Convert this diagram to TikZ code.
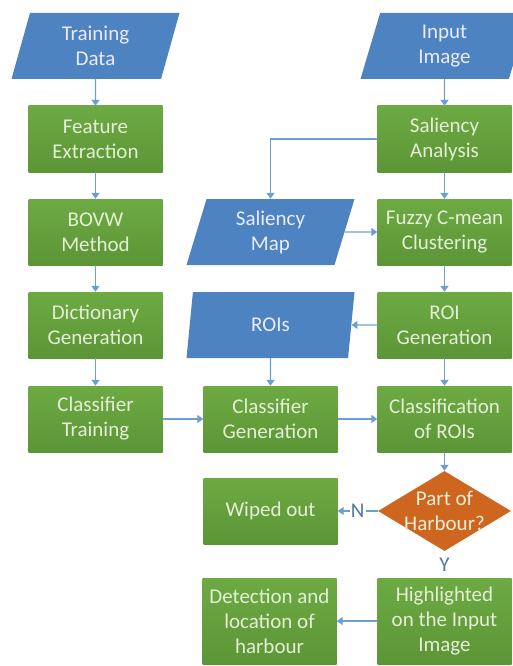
\documentclass[tikz,border=0pt]{standalone}
\usepackage{fontspec}
\setmainfont{Carlito}
\usetikzlibrary{arrows.meta,shapes.geometric}
\definecolor{boxgreen}{HTML}{6DAA43}
\definecolor{boxgreendark}{HTML}{5C9536}
\definecolor{ioblue}{HTML}{4E83C1}
\definecolor{deforange}{HTML}{CF661F}
\definecolor{arrowblue}{HTML}{6B9FD3}
\definecolor{lighttext}{HTML}{E4EFD6}
\tikzset{%
  >={Triangle[width=8pt,length=6pt]},
  % Specifications for style of nodes:
            base/.style = {rectangle, draw=none, inner sep=0pt,
                           minimum width=134pt, minimum height=66pt,
                           text centered, align=center, text=lighttext,
                           font=\fontsize{21}{25}\selectfont},
      greenbox/.style = {base, top color=boxgreen, bottom color=boxgreendark}, %green
       tallbox/.style = {greenbox, minimum height=86pt},
         iobox/.style = {base, trapezium, trapezium left angle=65,
                           trapezium right angle=115, trapezium stretches body,
                           minimum width=168pt, fill=ioblue, text=white!92!blue}, %blue
      decision/.style = {base, diamond, minimum width=133pt,
                           minimum height=80pt, fill=deforange}, %orange
       dectext/.style = {base, minimum width=0pt, minimum height=0pt},
          flow/.style = {->, draw=arrowblue, line width=1.3pt},
            yn/.style = {fill=white, text=arrowblue!75!black, inner sep=1pt,
                           font=\fontsize{21}{25}\selectfont},
}
\begin{document}
\begin{tikzpicture}[node distance=93pt]
  \useasboundingbox (0,0) rectangle (513pt,-666pt);
  % Specification of nodes (position, etc.)

  \node (train)     [iobox] at (95.5pt,-46pt) {Training\\Data};
  \node (feature)   [greenbox, below of=train] {Feature\\Extraction};
  \node (bovw)      [greenbox, below of=feature] {BOVW\\Method};
  \node (dict)      [greenbox, below of=bovw] {Dictionary\\Generation};
  \node (clstrain)  [greenbox, below of=dict, yshift=-1pt] {Classifier\\Training};

  \node (input)     [iobox, right of=train, xshift=256pt] {Input\\Image};
  \node (saliency)  [greenbox, below of=input] {Saliency\\Analysis};
  \node (fuzzy)     [greenbox, below of=saliency] {Fuzzy C-mean\\Clustering};
  \node (roigen)    [greenbox, below of=fuzzy] {ROI\\Generation};
  \node (clsroi)    [greenbox, below of=roigen, yshift=-1pt] {Classification\\of ROIs};

  \node (salmap)    [iobox, right of=bovw, xshift=82pt] {Saliency\\Map};
  \node (rois)      [iobox, right of=dict, xshift=82pt] {ROIs};
  \node (clsgen)    [greenbox, right of=clstrain, xshift=82pt] {Classifier\\Generation};

  \node (harbour)   [decision, below of=clsroi, yshift=1pt] {};
  \node (harbourtxt)[dectext] at (harbour) {Part of\\Harbour?};
  \node (wiped)     [greenbox, below of=clsgen, yshift=1pt] {Wiped out};
  \node (highlight) [tallbox, below of=harbour, yshift=-17pt] {Highlighted\\on the Input\\Image};
  \node (detect)    [tallbox, left of=highlight, xshift=-82pt] {Detection and\\location of\\harbour};

  % Connectors
  \draw[flow] (train) -- (feature);
  \draw[flow] (feature) -- (bovw);
  \draw[flow] (bovw) -- (dict);
  \draw[flow] (dict) -- (clstrain);
  \draw[flow] (input) -- (saliency);
  \draw[flow] (saliency) -- (fuzzy);
  \draw[flow] (saliency.west) -| (salmap.north);
  \draw[flow] (salmap.east) -- (fuzzy.west);
  \draw[flow] (fuzzy) -- (roigen);
  \draw[flow] (roigen.west) -- (rois.east);
  \draw[flow] (rois) -- (clsgen);
  \draw[flow] (roigen) -- (clsroi);
  \draw[flow] (clstrain) -- (clsgen);
  \draw[flow] (clsgen) -- (clsroi);
  \draw[flow] (clsroi) -- (harbour);
  \draw[flow] (harbour.west) -- node[yn] {N} (wiped.east);
  \draw[flow, -] (harbour.south) -- node[yn, minimum height=27pt] {Y} (highlight.north);
  \draw[flow] (highlight) -- (detect);

  \end{tikzpicture}
\end{document}
